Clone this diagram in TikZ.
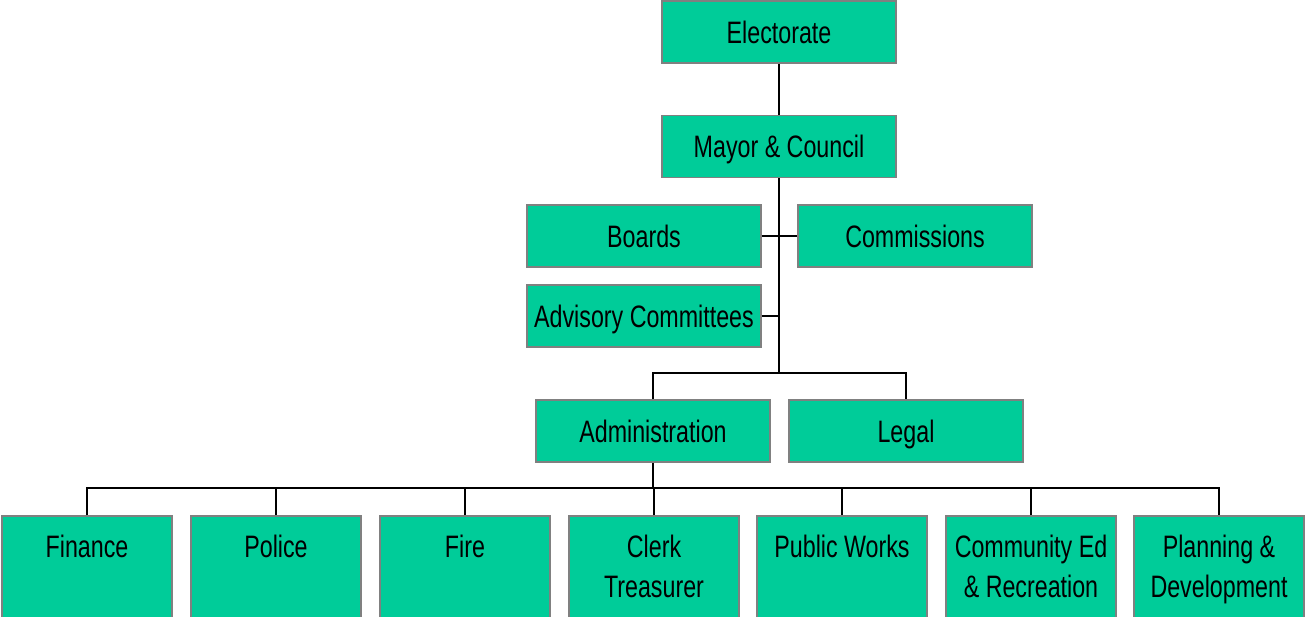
\documentclass[tikz,border=0pt]{standalone}
\usepackage{fontspec}
\setmainfont[FakeStretch=0.75]{Liberation Sans}
\definecolor{boxfill}{RGB}{0,204,153}
\definecolor{boxline}{RGB}{128,128,128}
\begin{document}
\begin{tikzpicture}[x=1pt,y=-1pt,
  box/.style={draw=boxline,line width=1.6pt,fill=boxfill,rectangle,inner sep=0pt,
    minimum width=234pt,minimum height=62pt,text height=22.2pt,text depth=0pt,
    font=\fontsize{31}{40}\selectfont},
  sbox/.style={draw=boxline,line width=1.6pt,fill=boxfill,rectangle,inner sep=0pt,
    minimum width=170pt,minimum height=110pt,anchor=north},
  lbl/.style={font=\fontsize{31}{40}\selectfont,align=center,anchor=north,inner sep=0pt},
  link/.style={line width=1.5pt,black}]
\useasboundingbox (0,0) rectangle (1305,617);
\clip (0,0) rectangle (1305,617);
% upper boxes
\node[box] (elec) at (779,32) {Electorate};
\node[box] (mayor) at (779,146.5) {Mayor \& Council};
\node[box] (boards) at (644,236) {Boards};
\node[box] (comm) at (915,236) {Commissions};
\node[box] (adv) at (644,316) {Advisory Committees};
\node[box] (admin) at (653,431) {Administration};
\node[box] (legal) at (906,431) {Legal};
% bottom boxes
\node[sbox] (fin) at (87,515) {};
\node[sbox] (pol) at (276,515) {};
\node[sbox] (fire) at (465,515) {};
\node[sbox] (clerk) at (654,515) {};
\node[sbox] (pw) at (842,515) {};
\node[sbox] (ced) at (1031,515) {};
\node[sbox] (plan) at (1219,515) {};
\node[lbl] (finl) at ([yshift=-20pt]fin.north) {Finance};
\node[lbl] (poll) at ([yshift=-20pt]pol.north) {Police};
\node[lbl] (firel) at ([yshift=-20pt]fire.north) {Fire};
\node[lbl] (clerkl) at ([yshift=-20pt]clerk.north) {Clerk\\Treasurer};
\node[lbl] (pwl) at ([yshift=-20pt]pw.north) {Public Works};
\node[lbl] (cedl) at ([yshift=-20pt]ced.north) {Community Ed\\\& Recreation};
\node[lbl] (planl) at ([yshift=-20pt]plan.north) {Planning \&\\Development};
% connectors
\coordinate (trunk) at (779,373);
\coordinate (bus) at (653,488);
\draw[link] (elec) -- (mayor);
\draw[link] (mayor.south) -- (trunk);
\draw[link] (boards.east) -- (comm.west);
\draw[link] (adv.east) -- (adv.east -| trunk);
\draw[link] (admin.north) |- (trunk) -| (legal.north);
\draw[link] (admin.south) -- (bus);
\draw[link] (fin.north) |- (bus) -| (plan.north);
\draw[link] (pol.north) -- (pol.north |- bus);
\draw[link] (fire.north) -- (fire.north |- bus);
\draw[link] (clerk.north) -- (clerk.north |- bus);
\draw[link] (pw.north) -- (pw.north |- bus);
\draw[link] (ced.north) -- (ced.north |- bus);
\end{tikzpicture}
\end{document}
